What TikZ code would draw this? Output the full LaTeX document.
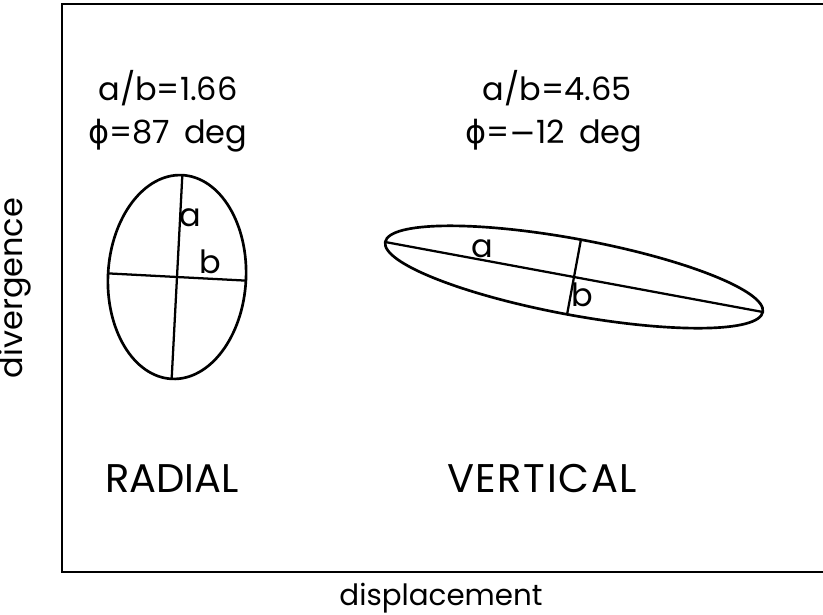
\documentclass[tikz,border=0pt]{standalone}
\usepackage{fontspec}
\setmainfont{Poppins}
\newfontfamily\grk{DejaVu Sans}
\usetikzlibrary{positioning}

\begin{document}
\begin{tikzpicture}[
  x=0.75pt, y=-0.75pt,
  font=\fontsize{24}{28}\selectfont,
  txt/.style={inner sep=0pt, anchor=base},
  bigtxt/.style={inner sep=0pt, anchor=base west, font=\fontsize{30}{34}\selectfont},
  axline/.style={line width=1.7pt},
  rim/.style={line width=2pt},
]
\useasboundingbox (0,0) rectangle (823,614);
% ===== frame =====
\draw[line width=1.6pt] (823,4) -- (62,4) -- (62,572) -- (823,572);

% ===== parameters =====
\node[txt] (ratioR) at (168,100) {a/b=1.66};
\node[txt] (phiR) at (168,143) {{\grk ϕ}=87\,\ deg};
\node[txt] (ratioV) at (557,100) {a/b=4.65};
\node[txt] (phiV) at (554,143) {{\grk ϕ}={\grk −}12\,\ deg};

% ===== radial ellipse =====
\begin{scope}[shift={(177,277)}, rotate=87]
  \draw[rim] (0,0) ellipse [x radius=102, y radius=69];
  \coordinate (ra1) at (102,0); \coordinate (ra2) at (-102,0);
  \coordinate (rb1) at (0,69);  \coordinate (rb2) at (0,-69);
\end{scope}
\draw[axline] (ra1) -- (ra2);
\draw[axline] (rb1) -- (rb2);
\node (raLbl) at (190,218) {a};
\node (rbLbl) at (210,262) {b};

% ===== vertical ellipse =====
\begin{scope}[shift={(574,277)}, rotate=-10.5]
  \draw[rim] (0,0) ellipse [x radius=192, y radius=38];
  \coordinate (va1) at (192,0); \coordinate (va2) at (-192,0);
  \coordinate (vb1) at (0,38);  \coordinate (vb2) at (0,-38);
\end{scope}
\draw[axline] (va1) -- (va2);
\draw[axline] (vb1) -- (vb2);
\node (vaLbl) at (482,249) {a};
\node (vbLbl) at (582,295) {b};

% ===== plane names =====
\node[bigtxt] (radial) at (105,492) {RADIAL};
\node[bigtxt] (vertical) at (447,492) {\addfontfeature{LetterSpace=4}VERTICAL};

% ===== axis titles =====
\node[txt, font=\fontsize{22}{26}\selectfont] (xlab) at (441,605) {displacement};
\node[txt, rotate=90] (ylab) at (22,288) {divergence};
\end{tikzpicture}
\end{document}
